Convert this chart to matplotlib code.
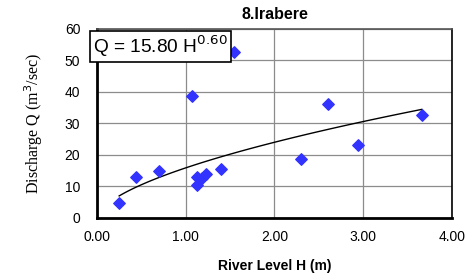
import numpy as np
import matplotlib
matplotlib.use('Agg')
import matplotlib.pyplot as plt

# river level H (m) vs discharge Q (m3/sec), station 8.Irabere
level_h = [0.25, 0.44, 0.70, 1.07, 1.13, 1.13, 1.18, 1.23, 1.40, 1.54, 2.30, 2.60, 2.94, 3.66]
discharge_q = [4.7, 12.9, 14.9, 38.7, 12.9, 10.2, 12.6, 13.8, 15.5, 52.7, 18.6, 36.1, 23.1, 32.6]

coef_a = 15.80
coef_b = 0.60

x_ticks = [0.0, 1.0, 2.0, 3.0, 4.0]
y_ticks = [0, 10, 20, 30, 40, 50, 60]

fig = plt.figure(figsize=(4.77, 2.75), dpi=100)
ax = fig.add_axes([97 / 477, 1 - 217.5 / 275, 355 / 477, 188.5 / 275])

ax.grid(True, color='#8c8c8c', linewidth=0.9)
ax.set_axisbelow(True)

ax.scatter(level_h, discharge_q, marker='D', s=34, color='#3333ff', zorder=3)

h_fit = np.linspace(min(level_h), max(level_h), 100)
ax.plot(h_fit, coef_a * h_fit ** coef_b, color='black', linewidth=1.0, zorder=2)

ax.set_xlim(0, 4)
ax.set_ylim(0, 60)
ax.set_xticks(x_ticks)
ax.set_xticklabels([f"{v:.2f}" for v in x_ticks])
ax.set_yticks(y_ticks)
ax.tick_params(length=0, labelsize=10)
ax.tick_params(axis='y', pad=12)
ax.tick_params(axis='x', pad=9)
for lbl in ax.get_xticklabels() + ax.get_yticklabels():
    lbl.set_fontfamily('Liberation Sans')

for side in ['left', 'bottom']:
    ax.spines[side].set_linewidth(2.0)
    ax.spines[side].set_color('black')
ax.spines['top'].set_color('#555555')
ax.spines['top'].set_linewidth(1.2)
ax.spines['right'].set_color('black')
ax.spines['right'].set_linewidth(1.2)

ax.set_title('8.Irabere', fontsize=11.5, fontweight='bold', fontfamily='Liberation Sans', pad=7)
ax.set_xlabel('River Level H (m)', fontsize=10, fontweight='bold', fontfamily='Liberation Sans', labelpad=11)
ax.set_ylabel('Discharge Q (m$^3$/sec)', fontsize=11.5, fontfamily='Liberation Serif', labelpad=14)

fig.text(93 / 477, 1 - 46.5 / 275, f"Q = {coef_a:.2f} H$^{{{coef_b:.2f}}}$",
         fontsize=13.8, fontfamily='Liberation Sans', va='center', ha='left',
         bbox=dict(boxstyle='square,pad=0.15', facecolor='white', edgecolor='black', linewidth=1.2),
         zorder=5)

fig.savefig('out.png', dpi=100)
